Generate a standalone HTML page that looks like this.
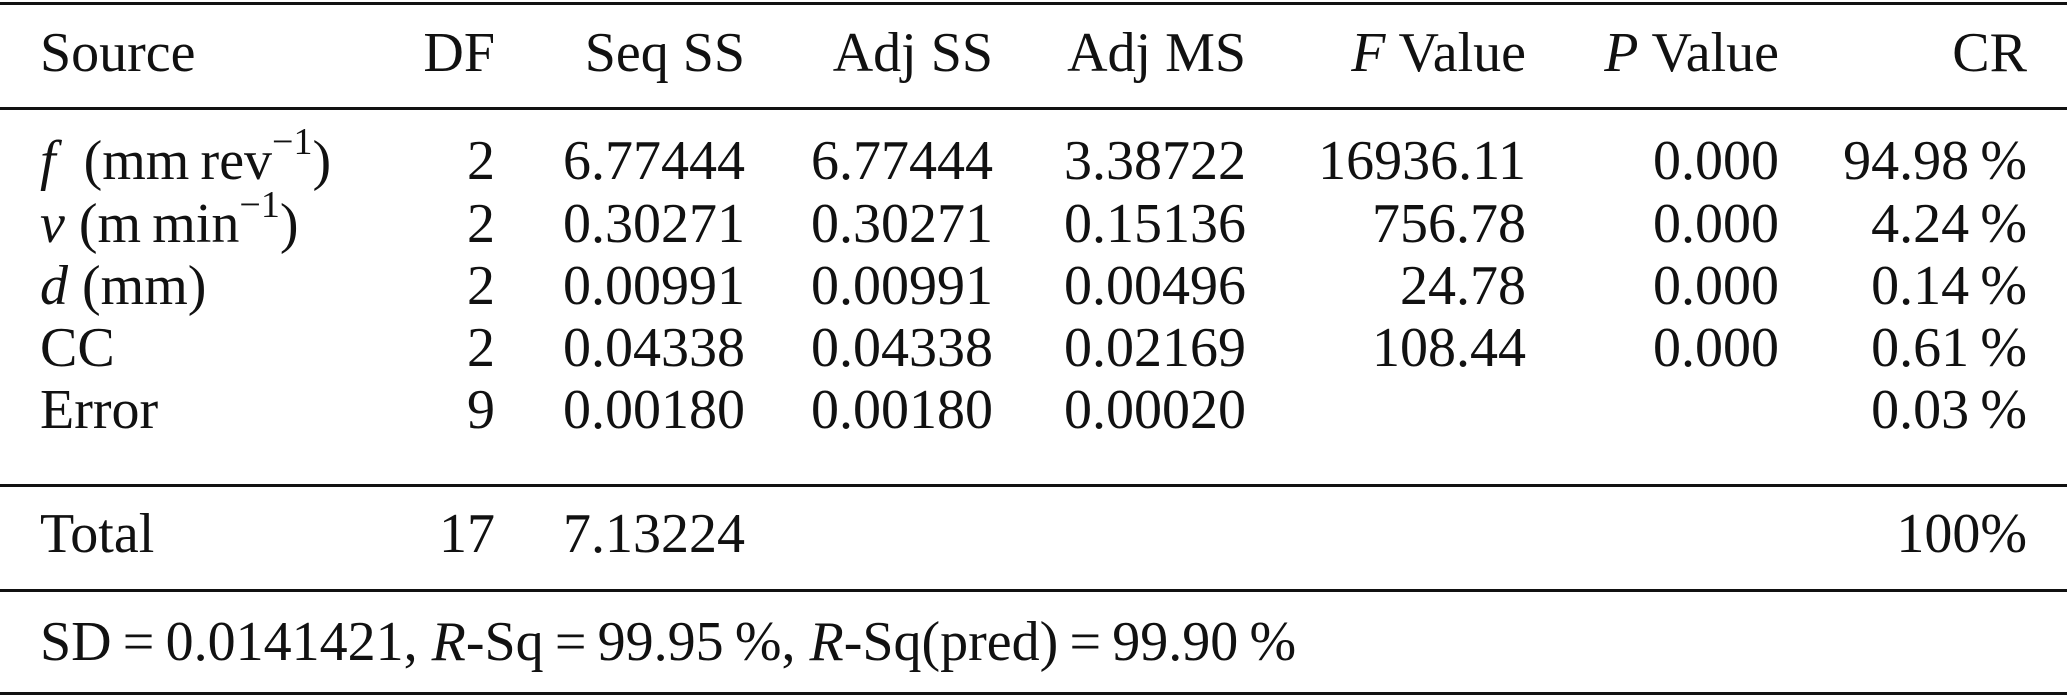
<!DOCTYPE html>
<html><head><meta charset="utf-8"><style>
html,body{margin:0;padding:0;background:#fff}
#c{position:relative;width:2067px;height:696px;overflow:hidden;font-family:"Liberation Serif",serif;font-size:56px;color:#111}
.r{position:absolute;left:0;width:2067px;height:3px;background:#111}
.t{position:absolute;height:56px;line-height:56px;white-space:nowrap}
.R{text-align:right}
sup{font-size:38px;line-height:0;position:relative;top:-5px}
i{font-style:italic}
</style></head><body><div id="c">
<div class="r" style="top:2px"></div>
<div class="r" style="top:107px"></div>
<div class="r" style="top:484px"></div>
<div class="r" style="top:589px"></div>
<div class="r" style="top:692px"></div>
<div id="rows"></div>
</div>
<script>
var cols=[495,745,993,1246,1526,1779,2027];
var rows=[
[53,'Source',['DF','Seq SS','Adj SS','Adj MS','<i>F</i> Value','<i>P</i> Value','CR']],
[161,'<i>f</i> &nbsp;(mm&#8201;rev<sup>&minus;1</sup>)',['2','6.77444','6.77444','3.38722','16936.11','0.000','94.98&#8201;%']],
[224,'<i>v</i> (m&#8201;min<sup>&minus;1</sup>)',['2','0.30271','0.30271','0.15136','756.78','0.000','4.24&#8201;%']],
[286,'<i>d</i> (mm)',['2','0.00991','0.00991','0.00496','24.78','0.000','0.14&#8201;%']],
[348,'CC',['2','0.04338','0.04338','0.02169','108.44','0.000','0.61&#8201;%']],
[410,'Error',['9','0.00180','0.00180','0.00020','','','0.03&#8201;%']],
[534,'Total',['17','7.13224','','','','','100%']],
[642,'SD&#8201;=&#8201;0.0141421, <i>R</i>-Sq&#8201;=&#8201;99.95&#8201;%, <i>R</i>-Sq(pred)&#8201;=&#8201;99.90&#8201;%',[]]
];
var h='';
rows.forEach(function(r){
 var top=r[0]-28;
 h+='<div class="t" style="left:40px;top:'+top+'px">'+r[1]+'</div>';
 r[2].forEach(function(v,i){ if(v) h+='<div class="t R" style="right:'+(2067-cols[i])+'px;top:'+top+'px">'+v+'</div>';});
});
document.getElementById('rows').innerHTML=h;
</script>
</body></html>
